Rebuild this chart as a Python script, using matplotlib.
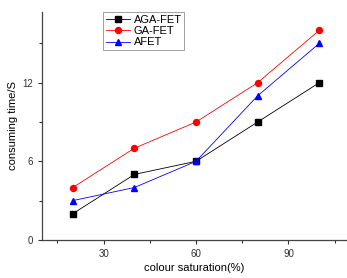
import matplotlib
matplotlib.use("Agg")
import matplotlib.pyplot as plt
from matplotlib.ticker import MultipleLocator

plt.rcParams['font.family'] = ['Liberation Sans', 'DejaVu Sans']

saturation = [20, 40, 60, 80, 100]
aga_fet = [2, 5, 6, 9, 12]
ga_fet = [4, 7, 9, 12, 16]
afet = [3, 4, 6, 11, 15]

fig = plt.figure(figsize=(3.47, 2.78), dpi=100)
ax = fig.add_axes([0.121, 0.137, 0.879, 0.820])

ax.plot(saturation, aga_fet, color='black', marker='s', markersize=4, linewidth=0.6, label='AGA-FET')
ax.plot(saturation, ga_fet, color='red', marker='o', markersize=4.3, linewidth=0.6, label='GA-FET')
ax.plot(saturation, afet, color='blue', marker='^', markersize=4.5, linewidth=0.6, label='AFET')

ax.set_xlim(10, 109)
ax.set_ylim(0, 17.4)
ax.xaxis.set_major_locator(MultipleLocator(30))
ax.xaxis.set_minor_locator(MultipleLocator(15))
ax.yaxis.set_major_locator(MultipleLocator(6))
ax.yaxis.set_minor_locator(MultipleLocator(3))
ax.tick_params(which='both', direction='out', labelsize=7, colors='#333333', width=0.8)
ax.tick_params(which='major', length=3)
ax.tick_params(which='minor', length=2)

for side in ['top', 'right']:
    ax.spines[side].set_visible(False)
for side in ['left', 'bottom']:
    ax.spines[side].set_color('#444444')
    ax.spines[side].set_linewidth(0.9)

ax.set_xlabel('colour saturation(%)', fontsize=8, labelpad=3)
ax.set_ylabel('consuming time/S', fontsize=8, labelpad=3)

leg = ax.legend(loc='upper left', bbox_to_anchor=(0.2, 1.0), fontsize=8, frameon=True,
                fancybox=False, edgecolor='#888888', handlelength=2.2, borderpad=0.25,
                labelspacing=0.12, handletextpad=0.3, borderaxespad=0.0)
leg.get_frame().set_linewidth(0.7)

fig.savefig('out.png', dpi=100)
